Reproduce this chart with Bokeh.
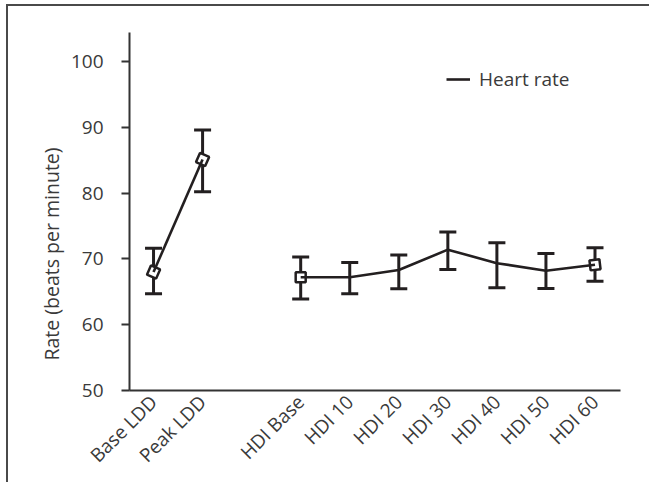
import math
from bokeh.plotting import figure
from bokeh.models import (ColumnDataSource, Whisker, TeeHead, FixedTicker, Title,
                          Legend, LegendItem)
from bokeh.embed import file_html
from bokeh.resources import INLINE

# ---- data ----
categories = ["Base LDD", "Peak LDD", "HDI Base", "HDI 10", "HDI 20",
              "HDI 30", "HDI 40", "HDI 50", "HDI 60"]
positions = [0, 1, 3, 4, 5, 6, 7, 8, 9]
mean_rate = [68.0, 85.1, 67.2, 67.2, 68.3, 71.4, 69.35, 68.2, 69.1]
upper_rate = [71.6, 89.6, 70.3, 69.45, 70.6, 74.1, 72.45, 70.8, 71.7]
lower_rate = [64.7, 80.2, 63.9, 64.7, 65.45, 68.4, 65.6, 65.5, 66.6]
y_ticks = [50, 60, 70, 80, 90, 100]

INK = "#231f20"
TXT = "#3a3a3a"
FONT = "Open Sans"

p = figure(width=643, height=478, output_backend="svg", toolbar_location=None,
           x_range=(-0.49, 9.52), y_range=(50, 104.4),
           min_border_left=121, min_border_right=31, min_border_top=26,
           min_border_bottom=94, margin=(4, 0, 0, 6),
           styles={"border-left": "2px solid #4a4a4a", "border-top": "2px solid #4a4a4a"})
p.outline_line_color = None
p.xgrid.grid_line_color = None
p.ygrid.grid_line_color = None
p.background_fill_color = "white"
p.border_fill_color = "white"

src = ColumnDataSource(dict(x=positions, y=mean_rate, up=upper_rate, lo=lower_rate))

w = Whisker(base="x", upper="up", lower="lo", source=src,
            line_color=INK, line_width=3,
            upper_head=TeeHead(size=17, line_width=3, line_color=INK),
            lower_head=TeeHead(size=17, line_width=3, line_color=INK))
p.add_layout(w)

ldd = ColumnDataSource(dict(x=positions[:2], y=mean_rate[:2]))
hdi = ColumnDataSource(dict(x=positions[2:], y=mean_rate[2:]))

mk = ColumnDataSource(dict(x=[positions[0], positions[1], positions[2], positions[8]],
                           y=[mean_rate[0], mean_rate[1], mean_rate[2], mean_rate[8]],
                           ang=[1.16, 1.16, 0.0, 0.12]))
p.scatter("x", "y", source=mk, marker="square", size=10, angle="ang",
          fill_color="white", line_color=INK, line_width=2.5)

l1 = p.line("x", "y", source=ldd, line_color=INK, line_width=2.6)
l2 = p.line("x", "y", source=hdi, line_color=INK, line_width=2.6)

legend = Legend(items=[LegendItem(label="Heart rate", renderers=[l1])],
                location=(317, 298), border_line_color=None,
                background_fill_alpha=0, padding=0, margin=0,
                glyph_width=24, glyph_height=20, label_standoff=9,
                label_text_font=FONT, label_text_font_size="19px",
                label_text_color=TXT)
p.add_layout(legend)

# axes
p.xaxis.ticker = FixedTicker(ticks=positions)
p.xaxis.major_label_overrides = {pos: c for pos, c in zip(positions, categories)}
p.xaxis.major_label_orientation = math.pi / 4
p.xaxis.major_tick_line_color = None
p.xaxis.minor_tick_line_color = None
p.xaxis.axis_line_color = "#333333"
p.xaxis.axis_line_width = 2
p.xaxis.major_label_text_font = FONT
p.xaxis.major_label_text_font_size = "19px"
p.xaxis.major_label_text_color = TXT
p.xaxis.major_label_standoff = 2

p.yaxis.ticker = FixedTicker(ticks=y_ticks)
p.yaxis.minor_tick_line_color = None
p.yaxis.major_tick_in = 0
p.yaxis.major_tick_out = 8
p.yaxis.major_tick_line_color = "#333333"
p.yaxis.major_tick_line_width = 2
p.yaxis.axis_line_color = "#333333"
p.yaxis.axis_line_width = 2
p.yaxis.major_label_text_font = FONT
p.yaxis.major_label_text_font_size = "19px"
p.yaxis.major_label_text_color = TXT
p.yaxis.major_label_standoff = 18

ytitle = Title(text="Rate (beats per minute)", align="left", offset=30,
               text_font=FONT, text_font_size="19.5px", text_font_style="normal",
               text_color=TXT, standoff=6)
p.add_layout(ytitle, "left")

open("out.html", "w").write(file_html(p, INLINE))
